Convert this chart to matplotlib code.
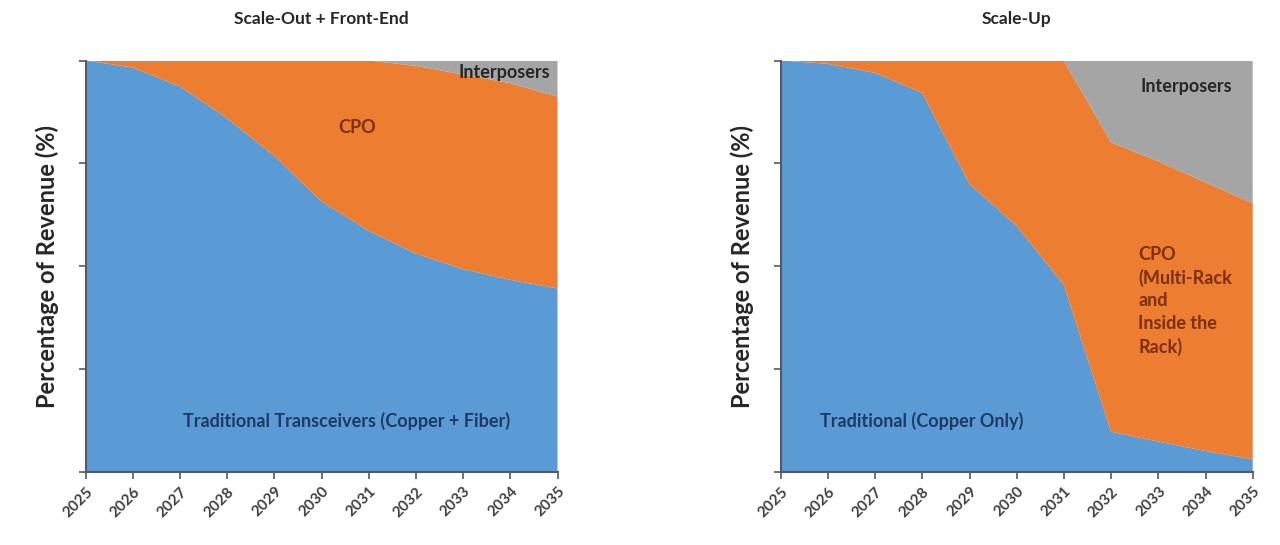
import matplotlib
matplotlib.use("Agg")
import matplotlib.pyplot as plt
import numpy as np

plt.rcParams['font.family'] = ['Lato', 'DejaVu Sans']

years = [2025, 2026, 2027, 2028, 2029, 2030, 2031, 2032, 2033, 2034, 2035]
year_labels = [str(y) for y in years]

# Left panel: Scale-Out + Front-End (percent of revenue, stacked)
so_traditional = [100, 98.3, 93.7, 86.0, 76.8, 65.8, 58.6, 53.1, 49.3, 46.7, 44.6]
so_cpo_top = [100, 100, 100, 100, 100, 100, 100, 98.7, 96.6, 94.5, 91.2]

# Right panel: Scale-Up
su_traditional = [100, 99.2, 97.0, 92.1, 70.0, 59.8, 45.5, 9.8, 7.4, 5.1, 3.1]
su_cpo_top = [100, 100, 100, 100, 100, 100, 100, 80.1, 75.5, 70.4, 65.3]

so_cpo = [t - b for t, b in zip(so_cpo_top, so_traditional)]
so_interp = [100 - t for t in so_cpo_top]
su_cpo = [t - b for t, b in zip(su_cpo_top, su_traditional)]
su_interp = [100 - t for t in su_cpo_top]

BLUE = '#5B9BD5'
ORANGE = '#ED7D31'
GRAY = '#A5A5A5'
AXC = '#595959'

fig = plt.figure(figsize=(12.8, 5.45), dpi=100)
W, H = 1280, 545

def make_ax(left_px):
    ax = fig.add_axes([left_px / W, (H - 472) / H, 472 / W, 411.5 / H])
    return ax

axL = make_ax(85.5)
axR = make_ax(780.7)

for ax, trad, cpo, interp in [(axL, so_traditional, so_cpo, so_interp),
                              (axR, su_traditional, su_cpo, su_interp)]:
    ax.stackplot(years, trad, cpo, interp, colors=[BLUE, ORANGE, GRAY], linewidth=0)
    ax.set_xlim(2025, 2035)
    ax.set_ylim(0, 100)
    ax.set_xticks(years)
    ax.set_xticklabels(year_labels, rotation=45, ha='right', rotation_mode='anchor',
                       fontsize=11, fontweight='bold', color='#404040')
    ax.set_yticks([0, 25, 50, 75, 100])
    ax.set_yticklabels([])
    ax.tick_params(axis='both', direction='out', length=5, width=1.2, color=AXC, pad=4)
    for s in ['top', 'right']:
        ax.spines[s].set_visible(False)
    for s in ['left', 'bottom']:
        ax.spines[s].set_color(AXC)
        ax.spines[s].set_linewidth(1.5)
    ax.set_ylabel('Percentage of Revenue (%)', fontsize=17, fontweight='bold',
                  color='#262626', labelpad=10)

axL.set_title('Scale-Out + Front-End', fontsize=12.5, fontweight='bold', color='#262626', pad=26)
axR.set_title('Scale-Up', fontsize=12.5, fontweight='bold', color='#262626', pad=26)

LBL = 13
# Text labels
axL.text(2030.54, 12.3, 'Traditional Transceivers (Copper + Fiber)', ha='center', va='center',
         fontsize=LBL, fontweight='bold', color='#1F3864')
axL.text(2030.75, 83.6, 'CPO', ha='center', va='center', fontsize=LBL,
         fontweight='bold', color='#7A2E0A')
axL.text(2032.9, 97.2, 'Interposers', ha='left', va='center', fontsize=LBL,
         fontweight='bold', color='#262626')

axR.text(2025.83, 12.3, 'Traditional (Copper Only)', ha='left', va='center',
         fontsize=LBL, fontweight='bold', color='#1F3864')
axR.text(2032.57, 41.6, 'CPO\n(Multi-Rack\nand\nInside the\nRack)', ha='left', va='center',
         fontsize=LBL, fontweight='bold', color='#7A2E0A', linespacing=1.4)
axR.text(2032.63, 93.6, 'Interposers', ha='left', va='center', fontsize=LBL,
         fontweight='bold', color='#262626')

fig.savefig('out.png', dpi=100)
